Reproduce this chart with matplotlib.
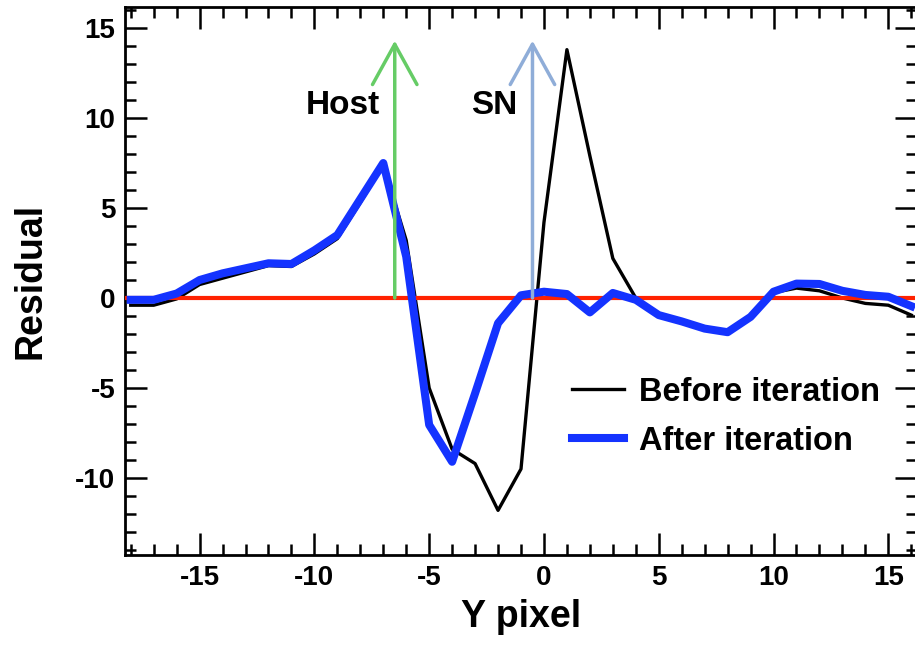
import numpy as np
import matplotlib
matplotlib.use('Agg')
import matplotlib.pyplot as plt
from matplotlib.patches import FancyArrowPatch
from matplotlib.ticker import MultipleLocator

plt.rcParams['font.family'] = ['Liberation Sans', 'DejaVu Sans']
plt.rcParams['font.weight'] = 'bold'
plt.rcParams['axes.unicode_minus'] = False

y_pixel = np.arange(-18, 17)
before = [-0.4, -0.4, -0.05, 0.75, 1.1, 1.45, 1.8, 1.75, 2.45, 3.3, 5.3, 7.4,
          3.2, -5.0, -8.4, -9.2, -11.8, -9.5, 4.2, 13.8, 7.9, 2.2, 0.0, -0.9,
          -1.25, -1.65, -1.95, -1.1, 0.3, 0.55, 0.4, 0.0, -0.3, -0.4, -0.95]
after = [-0.1, -0.1, 0.25, 1.0, 1.37, 1.65, 1.93, 1.89, 2.65, 3.5, 5.5, 7.5,
         2.3, -7.05, -9.1, -5.3, -1.4, 0.15, 0.35, 0.22, -0.8, 0.28, -0.1, -0.95,
         -1.3, -1.7, -1.9, -1.05, 0.35, 0.8, 0.78, 0.4, 0.17, 0.07, -0.45]

host_x, sn_x = -6.5, -0.5
arrow_top = 14.3

fig = plt.figure(figsize=(9.15, 6.48), dpi=100)
ax = fig.add_axes([125/915, 93/648, 792/915, 548/648])

ax.plot(y_pixel, before, color='black', lw=2.4, label='Before iteration', zorder=2)
ax.axhline(0, color='#ff2200', lw=3, zorder=3)
ax.plot(y_pixel, after, color='#1433ff', lw=5.8, label='After iteration', zorder=4)

for xa, col in [(host_x, '#66cc66'), (sn_x, '#8fadd8')]:
    arr = FancyArrowPatch((xa, 0), (xa, arrow_top),
                          arrowstyle='->,head_length=29,head_width=16',
                          mutation_scale=1, color=col, lw=2.5,
                          shrinkA=0, shrinkB=0, zorder=5)
    ax.add_patch(arr)

ax.text(-8.74, 10.7, 'Host', fontsize=24, fontweight='bold', ha='center', va='center')
ax.text(-2.15, 10.7, 'SN', fontsize=24, fontweight='bold', ha='center', va='center')

ax.set_xlim(-18.25, 16.25)
ax.set_ylim(-14.28, 16.17)
ax.xaxis.set_major_locator(MultipleLocator(5))
ax.xaxis.set_minor_locator(MultipleLocator(1))
ax.yaxis.set_major_locator(MultipleLocator(5))
ax.yaxis.set_minor_locator(MultipleLocator(1))
ax.tick_params(which='both', direction='in', top=True, right=True, width=1.8,
               labelsize=20)
ax.tick_params(which='major', length=16, pad=7)
ax.tick_params(which='minor', length=8)
for lab in ax.get_xticklabels() + ax.get_yticklabels():
    lab.set_fontweight('bold')
for s in ax.spines.values():
    s.set_linewidth(2)

ax.set_xlabel('Y pixel', fontsize=27, fontweight='bold', labelpad=6)
ax.set_ylabel('Residual', fontsize=27, fontweight='bold', labelpad=19)

ax.legend(loc='upper left', bbox_to_anchor=(0.5644, 0.325), frameon=False,
          fontsize=23.5, handlelength=1.6, handletextpad=0.45, labelspacing=0.55,
          borderpad=0, borderaxespad=0)

fig.savefig('out.png', dpi=100)
